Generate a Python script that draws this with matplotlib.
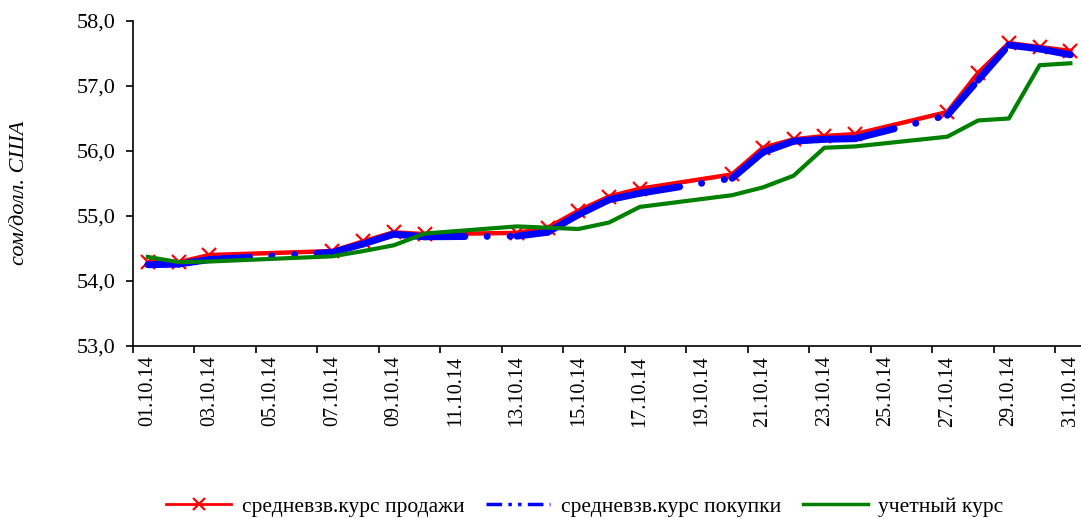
import numpy as np
import matplotlib
matplotlib.use("Agg")
import matplotlib.pyplot as plt
from matplotlib.lines import Line2D
from matplotlib.ticker import FixedLocator, FuncFormatter

# October 2014, working days only (the chart has one slot per calendar day)
all_days = [f"{d:02d}.10.14" for d in range(1, 32)]
days = [1, 2, 3, 7, 8, 9, 10, 13, 14, 15, 16, 17, 20, 21, 22, 23, 24, 27, 28, 29, 30, 31]
sell = [54.29, 54.29, 54.40, 54.46, 54.61, 54.75, 54.72, 54.74, 54.82, 55.08, 55.30,
        55.42, 55.64, 56.05, 56.18, 56.23, 56.26, 56.60, 57.20, 57.66, 57.60, 57.54]
buy = [54.25, 54.26, 54.33, 54.44, 54.57, 54.72, 54.68, 54.69, 54.75, 55.02, 55.25,
       55.35, 55.58, 55.98, 56.15, 56.18, 56.19, 56.55, 57.09, 57.63, 57.57, 57.48]
official = [54.37, 54.29, 54.30, 54.38, 54.46, 54.55, 54.73, 54.84, 54.82, 54.80, 54.90,
            55.14, 55.32, 55.44, 55.62, 56.05, 56.07, 56.22, 56.47, 56.50, 57.32, 57.35]

labels = ['средневзв.курс продажи', 'средневзв.курс покупки', 'учетный курс']

plt.rcParams['font.family'] = ['Liberation Serif', 'DejaVu Serif']

fig = plt.figure(figsize=(10.81, 5.19), dpi=100)
W, H = 1081, 519
left, right, top, bottom = 132.5, 1081, 21, 346
ax = fig.add_axes([left / W, 1 - bottom / H, (right - left) / W, (bottom - top) / H])

x = [d - 1 for d in days]
ax.plot(x, sell, color='#FF0000', lw=3.2, marker='x', ms=10, mew=1.6, zorder=2)

# the dash pattern restarts on every segment, as in the source chart
blue_dash = (0, (5.8, 3.2, 0.01, 3.3, 0.01, 3.2))
for i in range(len(x) - 1):
    ax.plot(x[i:i + 2], buy[i:i + 2], color='#0000FF', lw=5, zorder=3,
            linestyle=blue_dash, dash_capstyle='round', solid_capstyle='round')
ax.plot(x, official, color='#008000', lw=3, zorder=4)

cat_w = 30.75
ax.set_xlim(-0.5, -0.5 + (right - left) / cat_w)
ax.set_ylim(53, 58)

ax.xaxis.set_major_locator(FixedLocator(np.arange(0, 31, 2)))
ax.set_xticklabels(all_days[::2], rotation=90, fontsize=14.5)
ax.xaxis.set_minor_locator(FixedLocator(np.arange(-0.5, 31, 2)))
ax.tick_params(axis='x', which='major', length=0, pad=7)
ax.tick_params(axis='x', which='minor', length=5, width=1.2, direction='out')

ax.set_yticks(np.arange(53, 58.01, 1))
ax.yaxis.set_major_formatter(FuncFormatter(lambda v, p: f"{v:.1f}".replace('.', ',')))
ax.tick_params(axis='y', length=5, width=1.2, direction='out', labelsize=16, pad=7)

for s in ['top', 'right']:
    ax.spines[s].set_visible(False)
for s in ['left', 'bottom']:
    ax.spines[s].set_linewidth(1.2)

fig.text(20 / W, 1 - 193 / H, 'сом/долл. США', rotation=90, ha='center', va='center',
         fontsize=16, style='italic')

handles = [
    Line2D([], [], color='#FF0000', lw=2, marker='x', ms=9, mew=1.6),
    Line2D([], [], color='#0000FF', lw=2.5, linestyle=(0, (4.5, 1.8, 1, 1.8, 1, 1.8))),
    Line2D([], [], color='#008000', lw=2.5),
]
fig.legend(handles, labels, loc='center', bbox_to_anchor=(585 / W, 1 - 507 / H), ncol=3,
           frameon=False, fontsize=15.5, handlelength=3.0, handletextpad=0.5, columnspacing=1.0)

fig.savefig('out.png', dpi=100, facecolor='white')
